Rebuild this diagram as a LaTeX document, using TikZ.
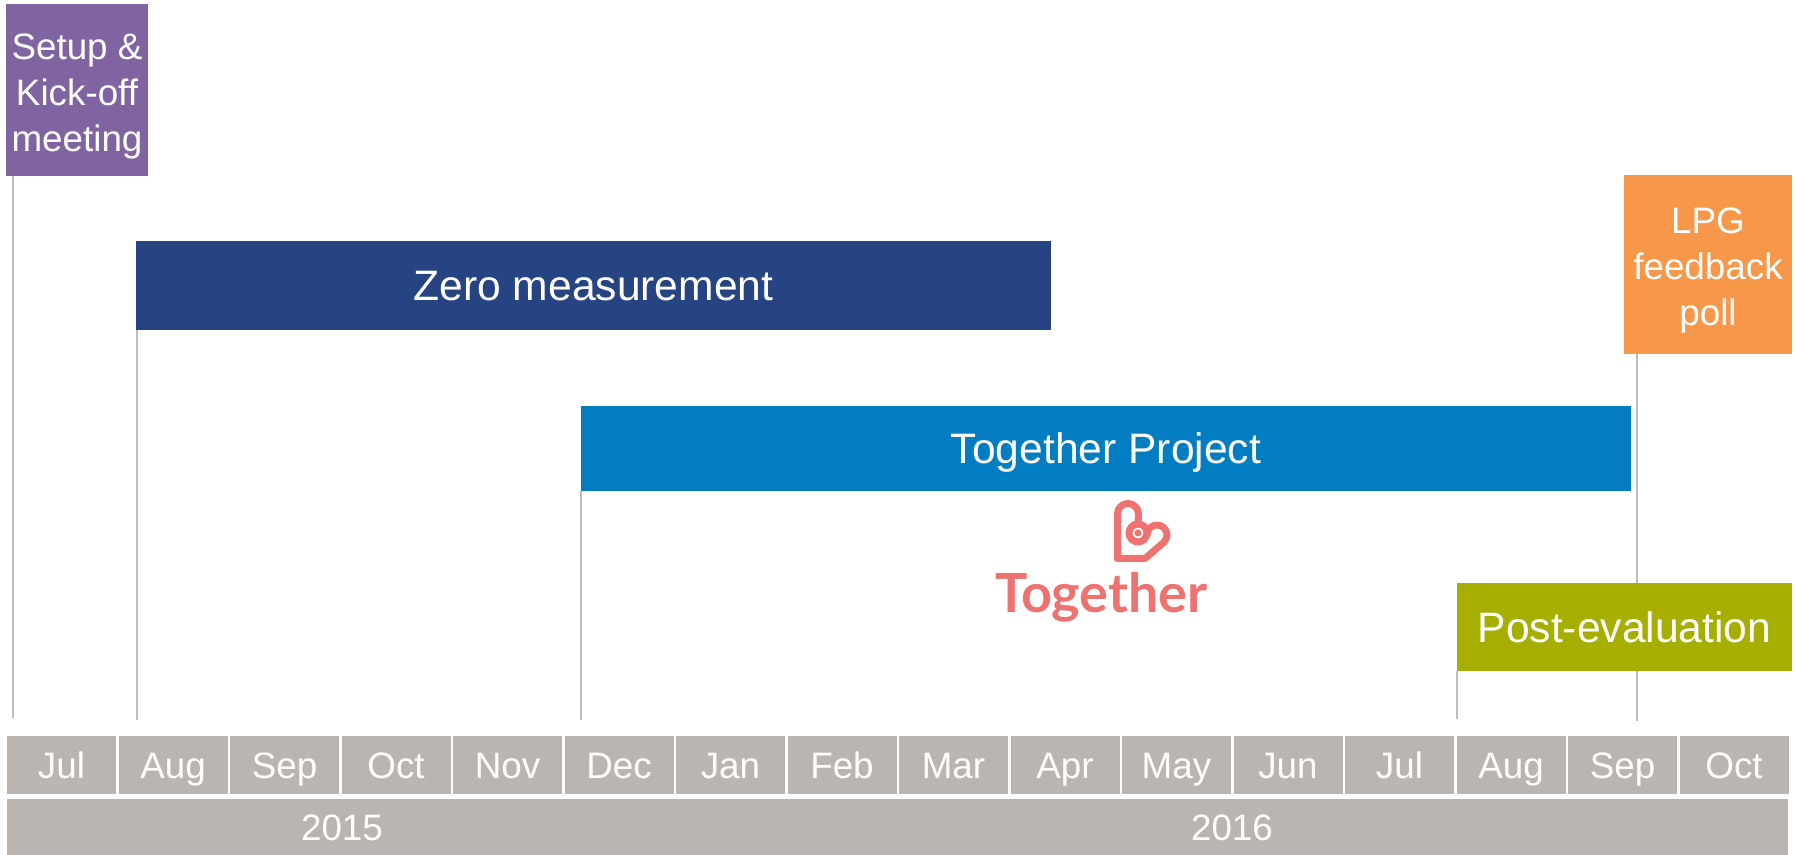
\documentclass[tikz,border=0pt]{standalone}
\usepackage{fontspec}
\setmainfont{Liberation Sans}
\newfontfamily\logofont{Lato}
\usetikzlibrary{positioning}
\definecolor{kickpurple}{RGB}{128,100,162}
\definecolor{zeroblue}{RGB}{38,67,130}
\definecolor{togetherblue}{RGB}{3,125,193}
\definecolor{lpgorange}{RGB}{247,151,74}
\definecolor{postolive}{RGB}{166,174,0}
\definecolor{cellgrey}{RGB}{187,181,178}
\definecolor{tickgrey}{RGB}{191,187,184}
\definecolor{logored}{RGB}{238,114,111}

\begin{document}
\begin{tikzpicture}
[x=0.5pt,y=0.5pt,
box/.style = {anchor=north west, inner sep=0pt, outer sep=0pt, text=white},
bar/.style = {box, font=\fontsize{21.3}{25}\selectfont, text height=15.25pt, text depth=0pt},
notetext/.style = {text=white, align=center, inner sep=0pt, yshift=-3pt, font=\fontsize{18.4}{23}\selectfont},
cell/.style = {box, fill=cellgrey, font=\fontsize{18.4}{22}\selectfont, text height=13.2pt, text depth=0pt},
tick/.style = {draw=tickgrey, line width=1pt},
logo line/.style = {draw=logored, line width=3.5pt, line join=round, line cap=round},]
\useasboundingbox (0,0) rectangle (1796,855);

% phases
\node (kick) at (6,851)[box, fill=kickpurple, minimum width=71pt, minimum height=86pt,
  label={[notetext]center:{Setup \&\\Kick-off\\meeting}}] {};
\node (zero) at (136,614)[bar, fill=zeroblue, minimum width=457.5pt, minimum height=44.5pt] {Zero measurement};
\node (proj) at (581,449)[bar, fill=togetherblue, minimum width=525pt, minimum height=42.5pt] {Together Project};
\node (lpg) at (1624,680)[box, fill=lpgorange, minimum width=84pt, minimum height=89.5pt,
  label={[notetext]center:{LPG\\feedback\\poll}}] {};
\node (post) at (1457,272)[bar, fill=postolive, minimum width=167.5pt, minimum height=44pt] {Post-evaluation};

% months and years
\foreach \m [count=\i from 0] in {Jul,Aug,Sep,Oct,Nov,Dec,Jan,Feb,Mar,Apr,May,Jun,Jul,Aug,Sep,Oct}
  \node (m\i) at ({7+111.5*\i},119)[cell, minimum width=54.5pt, minimum height=29pt] {\m};
\node (y2015) [cell, below right=2.5pt and 0pt of m0.south west, minimum width=335pt, minimum height=28pt] {2015};
\node (y2016) [cell, below right=2.5pt and 0pt of m6.south west, minimum width=556pt, minimum height=28pt] {2016};

% time markers
\coordinate (kickend) at (13,137);
\coordinate (zeroend) at (137,135);
\coordinate (projend) at (581,135);
\coordinate (postend) at (1457,136);
\coordinate (lpgtop) at (1637,501);
\coordinate (lpgend) at (1637,134);
\draw[tick] (kick.south west -| kickend) -- (kickend);
\draw[tick] (zero.south west -| zeroend) -- (zeroend);
\draw[tick] (proj.south west) -- (projend);
\draw[tick] (post.south west) -- (postend);
\draw[tick] (lpgtop) -- (post.north -| lpgtop);
\draw[tick] (post.south -| lpgtop) -- (lpgend);

% Together logo
\draw[logo line] (1117.5,296.5) -- (1117.5,341) arc[start angle=180,end angle=0,radius=10.5] -- (1138,331);
\draw[logo line] (1138,322) circle[radius=9];
\draw[logo line] (1147,320) arc[start angle=180,end angle=-45,radius=10] -- (1145,296.5) -- (1117.5,296.5);
\fill[logored] (1138,322) circle[radius=3.5];
\node (logo) at (1101.5,242)[anchor=base, inner sep=0pt, text=logored, font=\logofont\bfseries\fontsize{27}{30}\selectfont] {Together};

\end{tikzpicture}
\end{document}
